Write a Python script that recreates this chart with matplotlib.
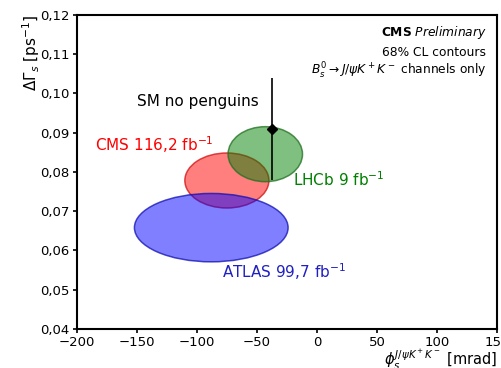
import matplotlib
matplotlib.use("Agg")
import matplotlib.pyplot as plt
from matplotlib.patches import Ellipse
from matplotlib.ticker import FuncFormatter

# 68% CL contours: centre (phi_s, dGamma_s) and half-widths
experiments = ["CMS", "LHCb", "ATLAS"]
phi_c = [-75, -43, -88]
dg_c = [0.0778, 0.0845, 0.0658]
phi_w = [35, 31, 64]
dg_w = [0.0070, 0.0070, 0.0087]
face = ["red", "green", "blue"]
edge = ["#d01010", "#1f6f1f", "#1010b0"]
labels = ["CMS 116,2 fb$^{-1}$", "LHCb 9 fb$^{-1}$", "ATLAS 99,7 fb$^{-1}$"]
label_x = [-185, -20, -79]
label_y = [0.0869, 0.0780, 0.0545]
label_col = ["red", "green", "#2020c0"]

# SM prediction
sm_phi = -37
sm_dg = 0.091
sm_err = 0.013

fig, ax = plt.subplots(figsize=(5.02, 3.68), dpi=100)
fig.subplots_adjust(left=0.153, right=0.99, top=0.96, bottom=0.106)

for i in range(len(experiments)):
    e = Ellipse((phi_c[i], dg_c[i]), 2 * phi_w[i], 2 * dg_w[i],
                facecolor=face[i], alpha=0.5, edgecolor="none")
    ax.add_patch(e)
    e2 = Ellipse((phi_c[i], dg_c[i]), 2 * phi_w[i], 2 * dg_w[i],
                 facecolor="none", edgecolor=edge[i], lw=1.1, alpha=0.75)
    ax.add_patch(e2)
    ax.text(label_x[i], label_y[i], labels[i], color=label_col[i],
            fontsize=11, va="center", ha="left")

ax.errorbar(sm_phi, sm_dg, yerr=sm_err, fmt="D", color="black", ms=5, lw=1.2)
ax.text(-150, 0.098, "SM no penguins", fontsize=11, va="center", ha="left")

ax.text(0.975, 0.943, r"$\bf{CMS}$ $\it{Preliminary}$", transform=ax.transAxes,
        ha="right", va="center", fontsize=8.8)
ax.text(0.975, 0.879, "68% CL contours", transform=ax.transAxes,
        ha="right", va="center", fontsize=8.8)
ax.text(0.975, 0.822, r"$B_s^0\to J/\psi K^+K^-$ channels only",
        transform=ax.transAxes, ha="right", va="center", fontsize=8.8)

ax.set_xlim(-200, 150)
ax.set_ylim(0.04, 0.12)
ax.set_xticks([-200, -150, -100, -50, 0, 50, 100, 150])
ax.set_yticks([0.04, 0.05, 0.06, 0.07, 0.08, 0.09, 0.10, 0.11, 0.12])
ax.yaxis.set_major_formatter(FuncFormatter(lambda v, p: f"{v:.2f}".replace(".", ",")))
ax.tick_params(labelsize=9.5, width=1.2, length=3, pad=2)
for s in ax.spines.values():
    s.set_linewidth(1.5)

ax.set_xlabel(r"$\phi_s^{J/\psi K^+K^-}$ [mrad]", fontsize=10.5, loc="right",
              labelpad=-1)
ax.set_ylabel(r"$\Delta\Gamma_s$ [ps$^{-1}$]", fontsize=11, loc="top",
              labelpad=-1)

fig.savefig("out.png", dpi=100)
